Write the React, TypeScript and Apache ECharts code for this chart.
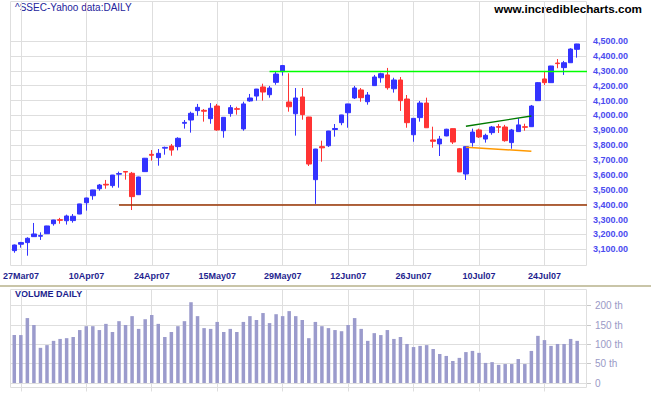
import React, { useEffect, useRef } from 'react';
import * as echarts from 'echarts';

// ---- data ----
const dates = [
  '26Mar07', '27Mar07', '28Mar07', '29Mar07', '30Mar07',
  '2Apr07', '3Apr07', '4Apr07', '5Apr07', '6Apr07', '9Apr07', '10Apr07', '11Apr07', '12Apr07', '13Apr07',
  '16Apr07', '17Apr07', '18Apr07', '19Apr07', '20Apr07', '23Apr07', '24Apr07', '25Apr07', '26Apr07', '27Apr07', '30Apr07',
  '8May07', '9May07', '10May07', '11May07', '14May07', '15May07', '16May07', '17May07', '18May07',
  '21May07', '22May07', '23May07', '24May07', '25May07', '28May07', '29May07', '30May07', '31May07',
  '1Jun07', '4Jun07', '5Jun07', '6Jun07', '7Jun07', '8Jun07', '11Jun07', '12Jun07', '13Jun07', '14Jun07', '15Jun07',
  '18Jun07', '19Jun07', '20Jun07', '21Jun07', '22Jun07', '25Jun07', '26Jun07', '27Jun07', '28Jun07', '29Jun07',
  '2Jul07', '3Jul07', '4Jul07', '5Jul07', '6Jul07', '9Jul07', '10Jul07', '11Jul07', '12Jul07', '13Jul07',
  '16Jul07', '17Jul07', '18Jul07', '19Jul07', '20Jul07', '23Jul07', '24Jul07', '25Jul07', '26Jul07', '27Jul07', '30Jul07', '31Jul07',
];

const opens = [
  3091, 3134, 3145, 3185, 3188, 3205, 3272, 3299, 3292, 3293,
  3337, 3413, 3460, 3507, 3537, 3528, 3605, 3623, 3611, 3467,
  3622, 3738, 3716, 3780, 3794, 3790, 3947, 3969, 4032, 4034,
  3978, 4063, 3897, 4012, 4045, 3909, 4097, 4130, 4191, 4139,
  4222, 4294, 4090, 4011, 4124, 3989, 3568, 3790, 3796, 3905,
  3951, 4018, 4117, 4171, 4092, 4200, 4253, 4272, 4179, 4238,
  4110, 3870, 3985, 4083, 3835, 3808, 3862, 3911, 3776, 3606,
  3817, 3902, 3841, 3884, 3925, 3922, 3817, 3891, 3924, 3924,
  4099, 4245, 4220, 4352, 4321, 4354, 4444,
];
const closes = [
  3129, 3145, 3174, 3203, 3192, 3257, 3297, 3295, 3324, 3322,
  3405, 3445, 3499, 3532, 3532, 3599, 3609, 3619, 3454, 3586,
  3712, 3732, 3745, 3785, 3767, 3846, 3953, 4014, 4054, 4028,
  4048, 3902, 3987, 4052, 4041, 4077, 4117, 4177, 4157, 4184,
  4278, 4335, 4058, 4117, 4005, 3673, 3774, 3782, 3895, 3912,
  4003, 4077, 4184, 4119, 4137, 4258, 4280, 4186, 4238, 4099,
  3951, 3980, 4083, 3917, 3826, 3841, 3907, 3821, 3620, 3790,
  3888, 3855, 3866, 3922, 3920, 3830, 3902, 3936, 3920, 4063,
  4220, 4220, 4332, 4348, 4354, 4446, 4480,
];
const lows = [
  3077, 3111, 3057, 3183, 3163, 3204, 3259, 3272, 3266, 3279,
  3336, 3360, 3433, 3494, 3507, 3514, 3514, 3568, 3364, 3465,
  3620, 3696, 3662, 3736, 3729, 3765, 3911, 3884, 3998, 3958,
  3944, 3897, 3850, 3991, 4005, 3897, 4092, 4099, 4099, 4119,
  4206, 4267, 4025, 3864, 3971, 3660, 3405, 3689, 3788, 3857,
  3934, 3917, 4110, 4092, 4072, 4199, 4220, 4173, 4153, 4030,
  3917, 3823, 3958, 3916, 3783, 3727, 3860, 3808, 3619, 3566,
  3790, 3848, 3817, 3870, 3882, 3823, 3776, 3890, 3897, 3923,
  4098, 4204, 4219, 4317, 4272, 4353, 4388,
];
const highs = [
  3132, 3150, 3181, 3277, 3214, 3258, 3298, 3311, 3333, 3337,
  3406, 3447, 3500, 3539, 3566, 3600, 3622, 3626, 3620, 3588,
  3714, 3767, 3774, 3790, 3808, 3853, 3969, 4025, 4077, 4043,
  4083, 4077, 3988, 4070, 4058, 4092, 4144, 4178, 4213, 4198,
  4292, 4339, 4283, 4184, 4184, 3990, 3775, 3830, 3896, 3942,
  4004, 4078, 4198, 4184, 4157, 4272, 4287, 4319, 4253, 4258,
  4137, 3981, 4097, 4119, 3924, 3862, 3910, 3912, 3781, 3791,
  3911, 3911, 3877, 3929, 3942, 3936, 3909, 3981, 3944, 4070,
  4224, 4292, 4333, 4379, 4366, 4451, 4481,
];

// volume in thousands
const volumes = [
  124, 124, 168, 150, 91, 98, 109, 114, 116, 119,
  137, 147, 147, 137, 153, 132, 160, 150, 173, 140,
  165, 176, 153, 119, 132, 147, 160, 209, 173, 142,
  140, 158, 132, 140, 132, 158, 173, 163, 181, 155,
  178, 173, 186, 173, 163, 116, 158, 147, 142, 137,
  134, 150, 168, 140, 109, 129, 124, 137, 114, 119,
  101, 93, 96, 98, 88, 75, 70, 57, 65, 80,
  83, 78, 52, 54, 47, 49, 49, 62, 49, 83,
  122, 111, 96, 101, 101, 114, 109,
];

const supportLevel = 3400;
const supportStart = 16;
const resistanceLevel = 4300;
const resistanceStart = 39;
const upperTrend: [number, number][] = [[69, 3927], [79, 3996]];
const lowerTrend: [number, number][] = [[69, 3786], [79, 3759]];

// ---- layout ----
const CW = 651;
const CH = 395;
const L = 11;
const R = 587;
const SLOTS = 88;
const BAND = (R - L) / SLOTS;
const PF_TOP = 1.5;
const PF_BOT = 265.5;
const P_TOP = 41; // 4500
const P_BOT = 249.3; // 3100
const VF_TOP = 289.5;
const VF_BOT = 387.5;
const V_TOP = 305.7; // 200
const V_BOT = 383; // 0

const FONT = '"Liberation Sans", Arial, Helvetica, sans-serif';
const GRID = '#dedede';
const UP = '#3333ff';
const DOWN = '#ff3333';

const tickFn = (i: number) => i % 10 === 1;

const brownStyle = { color: '#993300', width: 1.5, type: 'solid' };
const limeStyle = { color: '#00ff00', width: 1.3, type: 'solid' };
const trendGreenStyle = { color: '#007a00', width: 1.3, type: 'solid' };
const orangeStyle = { color: '#ff9900', width: 1.5, type: 'solid' };

export default function App() {
  const ref = useRef<HTMLDivElement>(null);
  useEffect(() => {
    if (!ref.current) return;
    const chart = echarts.init(ref.current, undefined, { renderer: 'svg' });
    const candles = dates.map((_, i) => [opens[i], closes[i], lows[i], highs[i]]);
    const option: any = {
      animation: false,
      backgroundColor: '#ffffff',
      textStyle: { fontFamily: FONT },
      grid: [
        { left: L, right: CW - R, top: P_TOP, bottom: CH - P_BOT },
        { left: L + BAND / 2, right: CW - R + BAND / 2, top: PF_TOP, bottom: CH - PF_BOT },
        { left: L, right: CW - R, top: V_TOP, bottom: CH - V_BOT },
        { left: L + BAND / 2, right: CW - R + BAND / 2, top: VF_TOP, bottom: CH - VF_BOT },
      ],
      xAxis: [
        { gridIndex: 0, type: 'category', data: dates, max: SLOTS - 1, boundaryGap: true, show: false },
        {
          gridIndex: 1, type: 'category', data: dates, max: SLOTS - 1, boundaryGap: false,
          axisLine: { show: false }, axisTick: { show: false },
          axisLabel: { interval: tickFn, margin: 6, color: '#1f1f8f', fontSize: 9, fontWeight: 'bold', fontFamily: FONT },
          splitLine: { show: true, interval: tickFn, lineStyle: { color: GRID, width: 1 } },
        },
        { gridIndex: 2, type: 'category', data: dates, max: SLOTS - 1, boundaryGap: true, show: false },
        {
          gridIndex: 3, type: 'category', data: dates, max: SLOTS - 1, boundaryGap: false,
          axisLine: { show: false },
          axisTick: { show: true, interval: tickFn, length: 4, lineStyle: { color: GRID } },
          axisLabel: { show: false },
          splitLine: { show: true, interval: tickFn, lineStyle: { color: GRID, width: 1 } },
        },
      ],
      yAxis: [
        {
          gridIndex: 0, type: 'value', position: 'right', min: 3100, max: 4500, interval: 100,
          axisLine: { show: false }, axisTick: { show: false },
          axisLabel: {
            margin: 6, color: '#4b4bf0', fontSize: 9, fontWeight: 'bold', fontFamily: FONT,
            formatter: (v: number) => v.toLocaleString('en-US', { minimumFractionDigits: 2, maximumFractionDigits: 2 }),
          },
          splitLine: { show: true, lineStyle: { color: GRID, width: 1 } },
        },
        { gridIndex: 1, type: 'value', show: false, min: 0, max: 1, splitLine: { show: false } },
        {
          gridIndex: 2, type: 'value', position: 'right', min: 0, max: 200, interval: 50,
          axisLine: { show: false },
          axisTick: { show: true, length: 4, lineStyle: { color: '#c8c8c8' } },
          axisLabel: {
            margin: 8, color: '#9a9ac6', fontSize: 10, fontFamily: FONT,
            formatter: (v: number) => (v === 0 ? '0' : `${v} th`),
          },
          splitLine: { show: true, lineStyle: { color: GRID, width: 1 } },
        },
        { gridIndex: 3, type: 'value', show: false, min: 0, max: 1, splitLine: { show: false } },
      ],
      series: [
        {
          type: 'candlestick', xAxisIndex: 0, yAxisIndex: 0, data: candles, barWidth: 5, clip: false,
          itemStyle: { color: UP, color0: DOWN, borderColor: UP, borderColor0: DOWN, borderWidth: 1 },
          markLine: {
            silent: true, symbol: ['none', 'none'], label: { show: false }, animation: false,
            data: [
              [
                { coord: [supportStart, supportLevel], lineStyle: brownStyle },
                { x: R, yAxis: supportLevel, lineStyle: brownStyle },
              ],
              [
                { coord: [resistanceStart, resistanceLevel], lineStyle: limeStyle },
                { x: R, yAxis: resistanceLevel, lineStyle: limeStyle },
              ],
              [
                { coord: upperTrend[0], lineStyle: trendGreenStyle },
                { coord: upperTrend[1], lineStyle: trendGreenStyle },
              ],
              [
                { coord: lowerTrend[0], lineStyle: orangeStyle },
                { coord: lowerTrend[1], lineStyle: orangeStyle },
              ],
            ],
          },
        },
        {
          type: 'bar', xAxisIndex: 2, yAxisIndex: 2, data: volumes, barWidth: 3.5, clip: false,
          itemStyle: { color: '#9b9bcc' },
        },
      ],
      graphic: [
        {
          type: 'rect', silent: true, z: 0,
          shape: { x: L - 0.5, y: PF_TOP, width: R - L, height: PF_BOT - PF_TOP },
          style: { fill: 'none', stroke: GRID, lineWidth: 1 },
        },
        {
          type: 'rect', silent: true, z: 0,
          shape: { x: L - 0.5, y: VF_TOP, width: R - L, height: VF_BOT - VF_TOP },
          style: { fill: 'none', stroke: GRID, lineWidth: 1 },
        },
        {
          type: 'rect', silent: true,
          shape: { x: 0, y: 285, width: CW, height: 2 },
          style: { fill: '#c9c5a8' },
        },
        {
          type: 'text', x: 15, y: 7, silent: true,
          style: { text: '^SSEC-Yahoo data:DAILY', fill: '#24249c', fontSize: 10, fontFamily: FONT, verticalAlign: 'middle' },
        },
        {
          type: 'text', x: 642, y: 8, silent: true,
          style: { text: 'www.incrediblecharts.com', fill: '#000000', fontSize: 11.7, fontWeight: 'bold', fontFamily: FONT, align: 'right', verticalAlign: 'middle' },
        },
        {
          type: 'text', x: 15, y: 294, silent: true,
          style: { text: 'VOLUME DAILY', fill: '#1d1d8d', fontSize: 9, fontWeight: 'bold', fontFamily: FONT, verticalAlign: 'middle' },
        },
      ],
    };
    chart.setOption(option);
    return () => chart.dispose();
  }, []);
  return (
    <div
      ref={ref}
      style={{ position: 'absolute', left: 0, top: 0, width: CW, height: CH, background: '#ffffff' }}
    />
  );
}
